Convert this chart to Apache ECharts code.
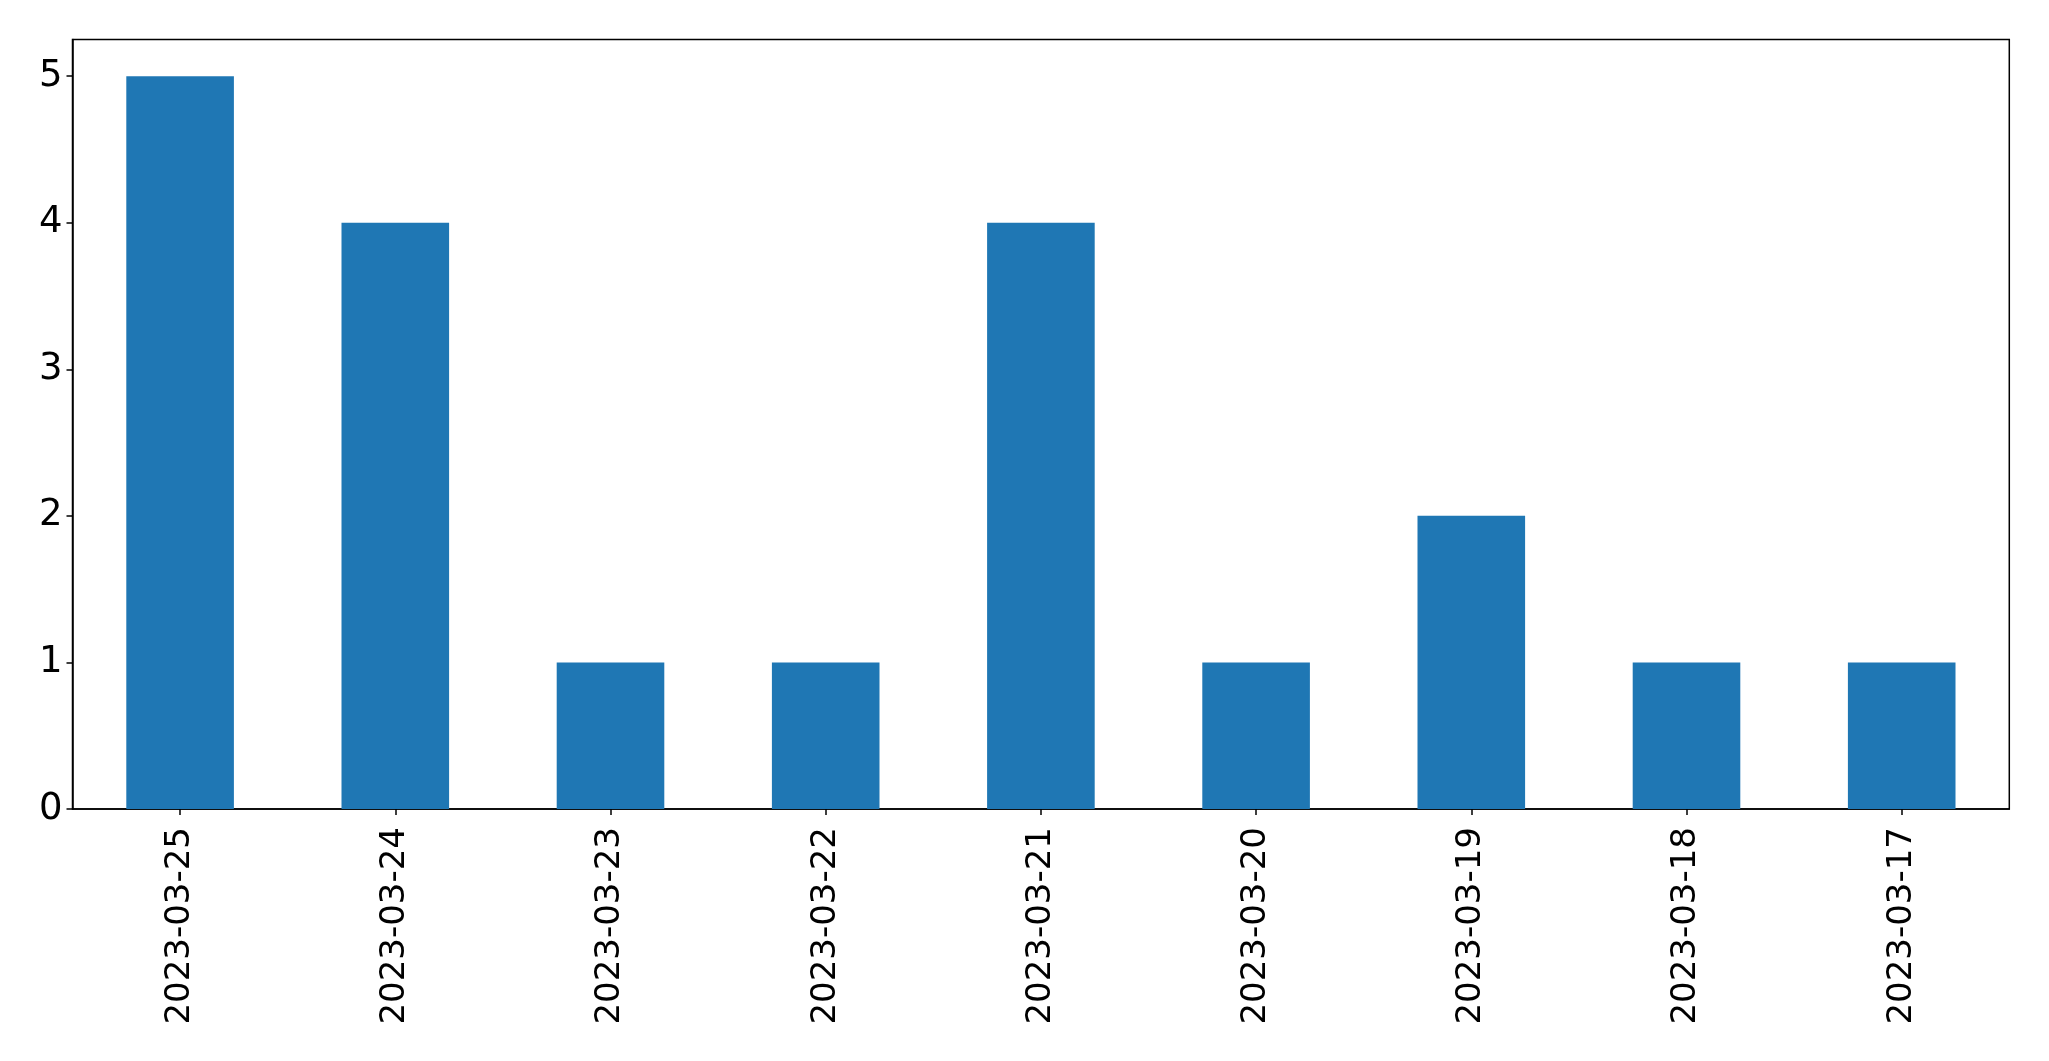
<!DOCTYPE html>
<html>
<head>
<meta charset="utf-8">
<script src="https://cdn.jsdelivr.net/npm/echarts@6/dist/echarts.min.js"></script>
<style>html,body{margin:0;padding:0;background:#fff;}#main{width:2049px;height:1061px;}</style>
</head>
<body>
<div id="main"></div>
<script>
const categories = ['2023-03-25','2023-03-24','2023-03-23','2023-03-22','2023-03-21','2023-03-20','2023-03-19','2023-03-18','2023-03-17'];
const counts = [5, 4, 1, 1, 4, 1, 2, 1, 1];
const yTicks = [0, 1, 2, 3, 4, 5];

const chart = echarts.init(document.getElementById('main'), null, {renderer: 'canvas'});
const font = 'DejaVu Sans';
chart.setOption({
  animation: false,
  backgroundColor: '#ffffff',
  grid: {
    left: 72.5, top: 39.5, right: 39.7, bottom: 252,
    show: true, borderColor: '#000', borderWidth: 1.5, backgroundColor: 'transparent'
  },
  xAxis: {
    type: 'category',
    data: categories,
    boundaryGap: true,
    axisLine: {show: true, lineStyle: {color: '#000', width: 1.5}},
    axisTick: {show: true, alignWithLabel: true, length: 6, lineStyle: {color: '#000', width: 1.5}},
    axisLabel: {rotate: 90, margin: 18, color: '#000', fontFamily: font, fontSize: 34, interval: 0},
    splitLine: {show: false}
  },
  yAxis: {
    type: 'value',
    min: 0, max: 5.25, interval: 1,
    axisLine: {show: true, lineStyle: {color: '#000', width: 1.5}},
    axisTick: {show: true, length: 6, customValues: yTicks, lineStyle: {color: '#000', width: 1.5}},
    axisLabel: {margin: 10, color: '#000', fontFamily: font, fontSize: 37, customValues: yTicks},
    splitLine: {show: false}
  },
  series: [{
    type: 'bar',
    data: counts,
    barWidth: '50%',
    itemStyle: {color: '#1f77b4'}
  }]
});
</script>
</body>
</html>
